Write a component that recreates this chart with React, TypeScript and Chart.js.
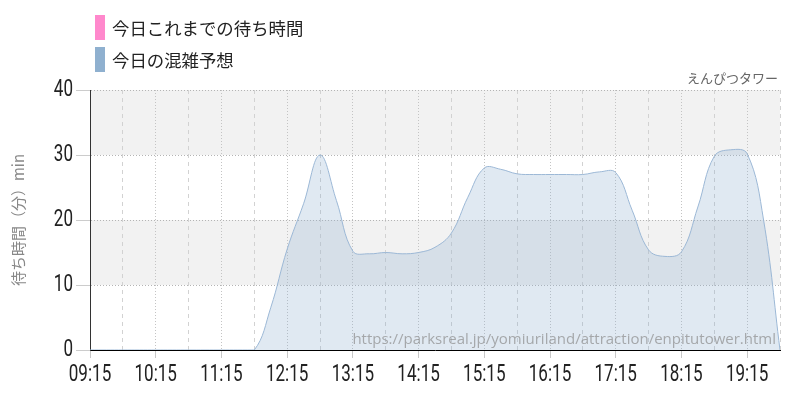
import React, { useEffect, useRef } from "react";
import { Chart, registerables } from "chart.js";

Chart.register(...registerables);

const timeLabels = [
  "09:15", "09:30", "09:45", "10:00", "10:15", "10:30", "10:45", "11:00", "11:15", "11:30", "11:45",
  "12:00", "12:15", "12:30", "12:45", "13:00", "13:15", "13:30", "13:45", "14:00", "14:15", "14:30",
  "14:45", "15:00", "15:15", "15:30", "15:45", "16:00", "16:15", "16:30", "16:45", "17:00", "17:15",
  "17:30", "17:45", "18:00", "18:15", "18:30", "18:45", "19:00", "19:15", "19:30", "19:45",
];
const forecastValues = [
  0, 0, 0, 0, 0, 0, 0, 0, 0, 0, 0,
  6.5, 15.5, 22.5, 30, 23, 15.2, 14.8, 15, 14.8, 15, 15.8,
  18, 23.5, 28, 27.8, 27.1, 27, 27, 27, 27, 27.4, 27.3,
  21.5, 15.4, 14.4, 15.1, 22, 29.8, 30.8, 30.2, 20, 0,
];
const actualValues: (number | null)[] = [];
const seriesNames = ["今日これまでの待ち時間", "今日の混雑予想"];
const seriesColors = ["#ff88cc", "#8fb0cf"];
const yTickValues = [0, 10, 20, 30, 40];
const attractionName = "えんぴつタワー";
const yAxisTitle = "待ち時間（分）min";
const sourceUrl = "https://parksreal.jp/yomiuriland/attraction/enpitutower.html";

const toMin = (s: string) => {
  const [h, m] = s.split(":").map(Number);
  return h * 60 + m;
};
const fmt = (v: number) => {
  const h = Math.floor(v / 60);
  const m = v % 60;
  return String(h).padStart(2, "0") + ":" + String(m).padStart(2, "0");
};

const startMin = toMin(timeLabels[0]);
const endMin = toMin(timeLabels[timeLabels.length - 1]);
const isHour = (v: number) => (v - startMin) % 60 === 0;

const TICK_FONT = "24px 'Roboto', sans-serif";
const CONDENSE = 0.71;
const JP = "'Noto Sans CJK JP', sans-serif";

const drawCondensed = (ctx: any, text: string, x: number, y: number, align: string) => {
  ctx.save();
  ctx.translate(x, y);
  ctx.scale(CONDENSE, 1);
  ctx.textAlign = align;
  ctx.fillText(text, 0, 0);
  ctx.restore();
};

const bandsPlugin = {
  id: "bands",
  beforeDraw(chart: any) {
    const { ctx, chartArea, scales } = chart;
    const y = scales.y;
    ctx.save();
    ctx.fillStyle = "#f2f2f2";
    for (let i = 0; i < yTickValues.length - 1; i++) {
      if (i % 2 === 1) {
        const top = y.getPixelForValue(yTickValues[i + 1]);
        const bottom = y.getPixelForValue(yTickValues[i]);
        ctx.fillRect(chartArea.left, top, chartArea.right - chartArea.left, bottom - top);
      }
    }
    ctx.restore();
  },
  afterDraw(chart: any) {
    const { ctx, chartArea, scales } = chart;
    ctx.save();
    // tick labels (condensed)
    ctx.font = TICK_FONT;
    ctx.fillStyle = "#222";
    ctx.textBaseline = "middle";
    scales.x.ticks.forEach((t: any) => {
      if (!isHour(t.value)) return;
      drawCondensed(ctx, fmt(t.value), scales.x.getPixelForValue(t.value), chartArea.bottom + 25, "center");
    });
    scales.y.ticks.forEach((t: any) => {
      drawCondensed(ctx, String(t.value), chartArea.left - 17, scales.y.getPixelForValue(t.value), "right");
    });
    // title
    ctx.font = "13px " + JP;
    ctx.fillStyle = "#666";
    ctx.textAlign = "right";
    ctx.textBaseline = "alphabetic";
    ctx.fillText(attractionName, chartArea.right - 2, chartArea.top - 7);
    // watermark
    ctx.font = "15px 'Open Sans', sans-serif";
    ctx.fillStyle = "rgba(140,140,140,0.7)";
    ctx.fillText(sourceUrl, chartArea.right - 4, chartArea.bottom - 6);
    ctx.restore();
  },
};

export default function App() {
  const ref = useRef<HTMLCanvasElement | null>(null);

  useEffect(() => {
    if (!ref.current) return;
    const chart = new Chart(ref.current, {
      type: "line",
      data: {
        datasets: [
          {
            label: seriesNames[0],
            data: actualValues.map((v, i) => ({ x: toMin(timeLabels[i]), y: v })),
            borderColor: seriesColors[0],
            backgroundColor: seriesColors[0],
            pointRadius: 0,
            borderWidth: 1,
          },
          {
            label: seriesNames[1],
            data: forecastValues.map((v, i) => ({ x: toMin(timeLabels[i]), y: v })),
            borderColor: "#9cb8d6",
            backgroundColor: "rgba(143,176,207,0.28)",
            fill: "origin",
            pointRadius: 0,
            borderWidth: 1,
            tension: 0.4,
          },
        ],
      },
      options: {
        animation: false,
        responsive: false,
        layout: { padding: { top: 82, right: 12, left: 0, bottom: 0 } },
        plugins: {
          legend: { display: false },
          title: { display: false },
          tooltip: { enabled: false },
        },
        scales: {
          x: {
            type: "linear",
            min: startMin,
            max: endMin,
            afterBuildTicks: (scale: any) => {
              scale.ticks = timeLabels
                .map(toMin)
                .filter((v) => (v - startMin) % 30 === 0)
                .map((v) => ({ value: v }));
            },
            afterFit: (scale: any) => {
              scale.height = 42;
            },
            ticks: {
              autoSkip: false,
              maxRotation: 0,
              color: "rgba(0,0,0,0)",
              font: { family: "Roboto", size: 21 },
              callback: (v: any) => (isHour(Number(v)) ? fmt(Number(v)) : ""),
            },
            grid: {
              color: (c: any) => (c.tick && isHour(c.tick.value) ? "#c4c4c4" : "#d2d2d2"),
              lineWidth: 1,
              tickLength: 8,
              tickWidth: (c: any) => (c.tick && isHour(c.tick.value) ? 1 : 0),
              tickColor: "#c8c8c8",
            },
            border: {
              color: "#000",
              width: 1,
              dash: (c: any) => (c.tick ? (isHour(c.tick.value) ? [1, 2] : [4, 4]) : []),
            },
          },
          y: {
            min: yTickValues[0],
            max: yTickValues[yTickValues.length - 1],
            afterBuildTicks: (scale: any) => {
              scale.ticks = yTickValues.map((v) => ({ value: v }));
            },
            afterFit: (scale: any) => {
              scale.width = 82;
            },
            ticks: {
              color: "rgba(0,0,0,0)",
              font: { family: "Roboto", size: 21 },
            },
            grid: {
              color: "#b4b4b4",
              lineWidth: 1,
              tickLength: 14,
              tickColor: "#cccccc",
            },
            border: {
              color: "#333",
              width: 1,
              dash: (c: any) => (c.tick ? [1, 2] : []),
            },
            title: {
              display: true,
              text: yAxisTitle,
              color: "#888",
              font: { family: JP, size: 15 },
              padding: { top: 1, bottom: 0 },
            },
          },
        },
      },
      plugins: [bandsPlugin],
    } as any);
    return () => chart.destroy();
  }, []);

  return (
    <div style={{ position: "relative", width: 784, height: 384 }}>
      <canvas ref={ref} width={784} height={384} style={{ display: "block" }} />
      {seriesNames.map((name, i) => (
        <div
          key={name}
          style={{
            position: "absolute",
            left: 87,
            top: 7 + i * 32,
            height: 25,
            display: "flex",
            alignItems: "center",
            fontFamily: JP,
            fontSize: 17.4,
            color: "#222",
            whiteSpace: "nowrap",
          }}
        >
          <span style={{ display: "inline-block", width: 10, height: 25, background: seriesColors[i], marginRight: 7 }} />
          <span>{name}</span>
        </div>
      ))}
    </div>
  );
}
